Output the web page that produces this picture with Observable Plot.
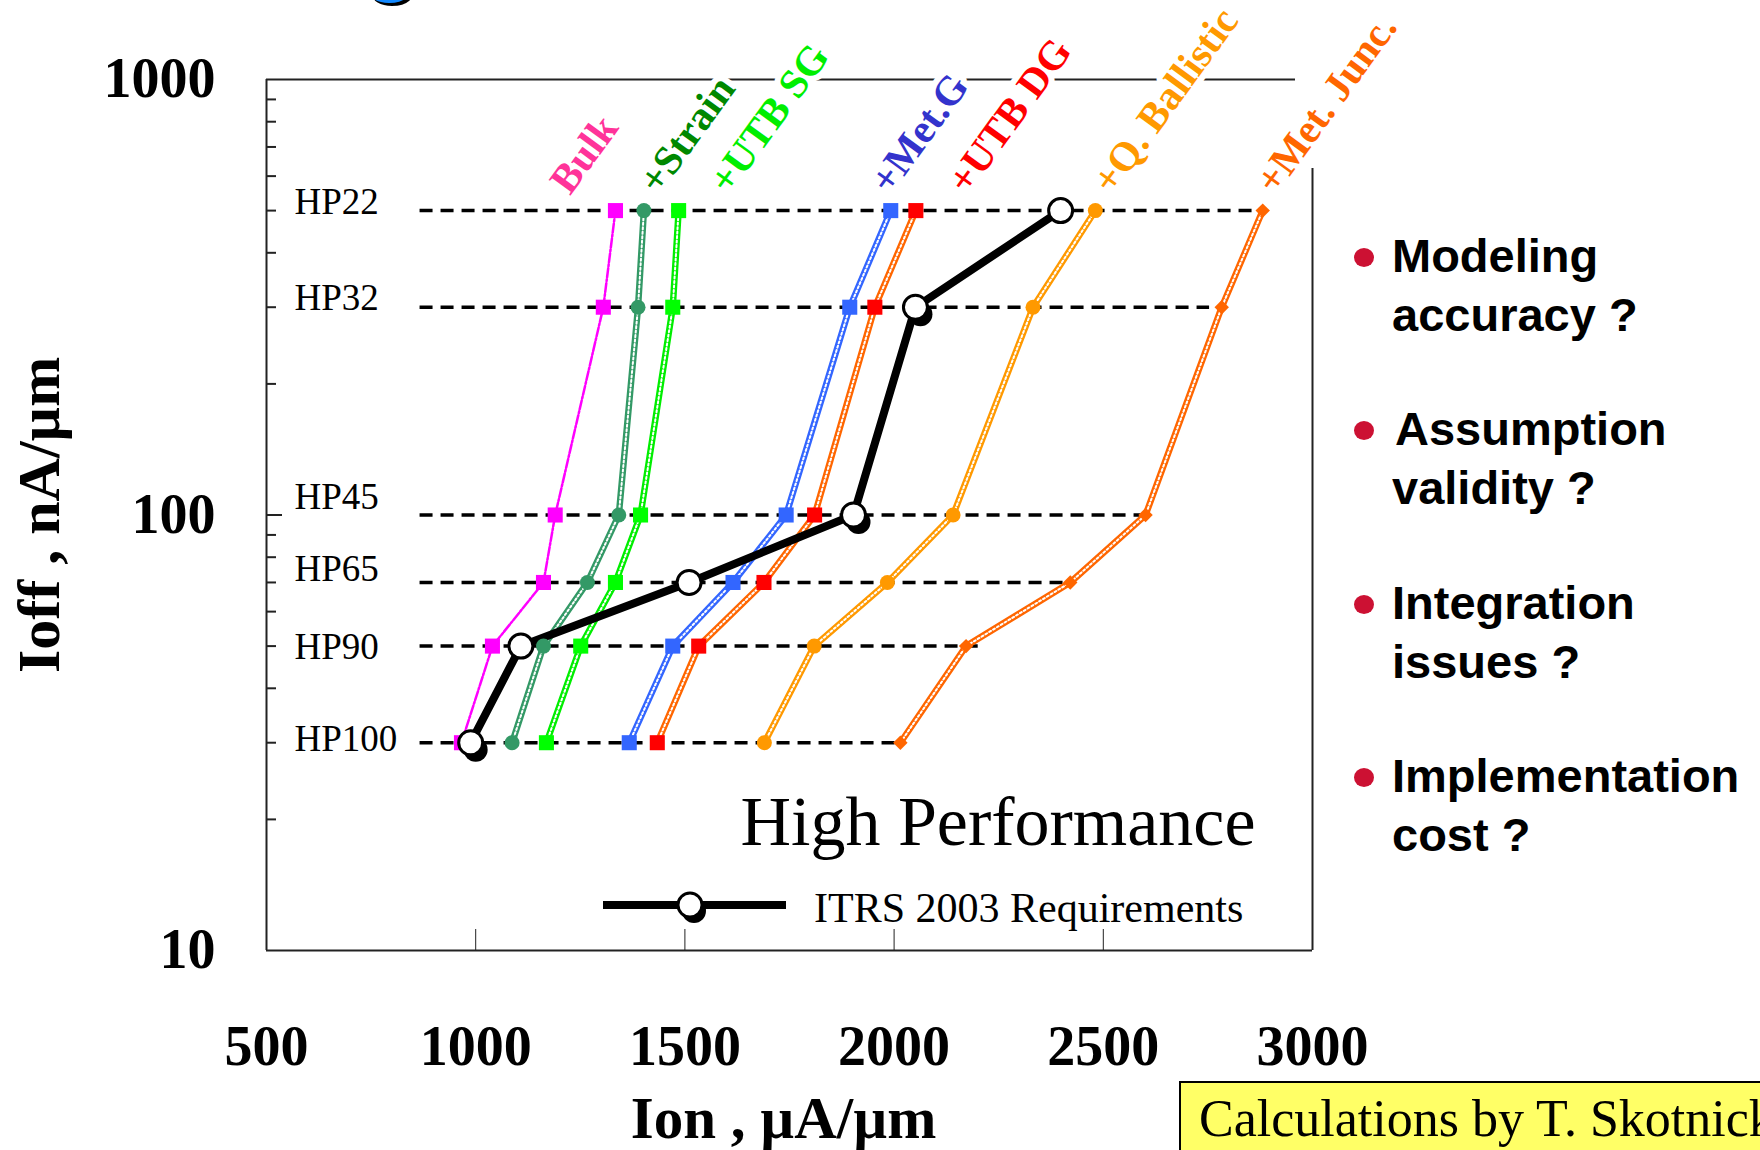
<!DOCTYPE html>
<html><head><meta charset="utf-8">
<script src="https://cdn.jsdelivr.net/npm/d3@7"></script>
<script src="https://cdn.jsdelivr.net/npm/@observablehq/plot@0.6"></script>
<style>
body{margin:0;background:#fff;}
#wrap{position:relative;width:1760px;height:1150px;overflow:hidden;background:#fff;}
#chart{position:absolute;left:0;top:0;}
#titlefrag{position:absolute;left:362px;top:-94px;font-family:"Liberation Sans",Arial,sans-serif;font-weight:bold;font-size:93px;line-height:93px;color:#1188FF;text-shadow:3px 3px 0 #000;}
.bul{position:absolute;left:1392px;font-family:"Liberation Sans",Arial,sans-serif;font-weight:bold;font-size:47px;line-height:59px;color:#000;white-space:nowrap;}
.dot{position:absolute;left:1354px;width:20px;height:19px;border-radius:50%;background:#CC1133;}
#note{position:absolute;left:1179px;top:1081px;width:700px;height:120px;background:#FFFF66;border:2px solid #000;font-family:"Liberation Serif",serif;font-size:52px;white-space:nowrap;}
#note span{position:absolute;left:18px;top:6px;}
#legend{position:absolute;left:590px;top:880px;}
#legtext{position:absolute;left:814px;top:884px;font-family:"Liberation Serif",serif;font-size:42px;white-space:nowrap;}
</style></head><body>
<div id="wrap">
<div id="titlefrag">g</div>
<div id="chart"></div>
<svg id="legend" width="220" height="50"><line x1="13" y1="25" x2="196" y2="25" stroke="#000" stroke-width="8"/><circle cx="104" cy="31" r="12" fill="#000"/><circle cx="100" cy="25" r="12" fill="#fff" stroke="#000" stroke-width="3"/></svg>
<div id="legtext">ITRS 2003 Requirements</div>
<div class="dot" style="top:248px"></div>
<div class="bul" style="top:226px">Modeling<br>accuracy ?</div>
<div class="dot" style="top:421px"></div>
<div class="bul" style="top:399px;left:1395px">Assumption<br><span style="margin-left:-3px">validity ?</span></div>
<div class="dot" style="top:595px"></div>
<div class="bul" style="top:573px">Integration<br>issues ?</div>
<div class="dot" style="top:768px"></div>
<div class="bul" style="top:746px">Implementation<br>cost ?</div>
<div id="note"><span>Calculations by T. Skotnicki</span></div>
</div>
<script>
// ---- data ----
const hpNames = ["HP100", "HP90", "HP65", "HP45", "HP32", "HP22"];
const hpIoff = [30, 50, 70, 100, 300, 500];           // nA/µm
const dashFrom = 867;                                  // µA/µm
const dashTo = [2008, 2201, 2416, 2594, 2754, 2869];   // µA/µm
const hpLabelIon = 567;

const seriesNames = ["Bulk", "+Strain", "+UTB SG", "+Met.G", "+UTB DG", "+Q. Ballistic", "+Met. Junc."];
const ionBulk   = [966, 1040, 1162, 1190, 1305, 1334];
const ionStrain = [1087, 1162, 1267, 1342, 1388, 1402];
const ionUtbSG  = [1169, 1251, 1334, 1394, 1471, 1485];
const ionMetG   = [1367, 1471, 1615, 1742, 1894, 1992];
const ionUtbDG  = [1434, 1533, 1689, 1810, 1954, 2052];
const ionQBall  = [1690, 1809, 1984, 2141, 2332, 2481];
const ionMetJ   = [2015, 2172, 2421, 2601, 2783, 2881];
const itrsIon   = [988, 1108, 1510, 1903, 2051, 2398];
const itrsShadowLevels = ["HP100", "HP45", "HP32"];

const labelIon = [1200, 1412, 1580, 1965, 2150, 2496, 2886];
const labelIoff = 562;

const xDomain = [500, 3000];
const yDomain = [10, 1000];
const xTickLabels = [500, 1000, 1500, 2000, 2500, 3000];
const xInnerTicks = [1000, 1500, 2000, 2500];
const yTickLabels = [10, 100, 1000];
const yMinorTicks = [20, 30, 40, 50, 60, 70, 80, 90, 200, 300, 400, 500, 600, 700, 800, 900];

// ---- styles ----
const hpLabelDy = [-4, 1, -13, -18, -9, -8];
const seriesIon = [ionBulk, ionStrain, ionUtbSG, ionMetG, ionUtbDG, ionQBall, ionMetJ];
const styles = [
  {line: "#FF00FF", fill: "#FF00FF", symbol: "square", r: 8.5, chain: false, label: "#FF3399"},
  {line: "#339966", fill: "#339966", symbol: "circle", r: 7.5, chain: true, label: "#008800"},
  {line: "#00EE00", fill: "#00FF00", symbol: "square", r: 8.5, chain: true, label: "#00EE00"},
  {line: "#3366FF", fill: "#3366FF", symbol: "square", r: 8.5, chain: true, label: "#3333CC"},
  {line: "#FF6600", fill: "#FF0000", symbol: "square", r: 8.5, chain: true, label: "#FF0000"},
  {line: "#FF9900", fill: "#FF9900", symbol: "circle", r: 7.5, chain: true, label: "#FF9900"},
  {line: "#FF6600", fill: "#FF6600", symbol: "diamond2", r: 6.5, chain: true, label: "#FF6600"}
];

const hpRows = hpNames.map((n, i) => ({name: n, ioff: hpIoff[i], to: dashTo[i]}));
const series = seriesNames.map((name, s) => ({
  name, style: styles[s],
  rows: seriesIon[s].map((x, i) => ({ion: x, ioff: hpIoff[i], level: hpNames[i]}))
}));
const itrsRows = itrsIon.map((x, i) => ({ion: x, ioff: hpIoff[i], level: hpNames[i]}));
const labelRows = seriesNames.map((n, i) => ({name: n, ion: labelIon[i], ioff: labelIoff, color: styles[i].label}));

const serif = "'Liberation Serif','Times New Roman',serif";
const frameColor = "#222";

const marks = [];
// frame: left, bottom, top (stopping short of the corner), right (starting below the labels)
marks.push(Plot.ruleX([xDomain[0]], {x: d => d, stroke: frameColor, strokeWidth: 2}));
marks.push(Plot.ruleY([yDomain[0]], {y: d => d, stroke: frameColor, strokeWidth: 2}));
marks.push(Plot.ruleY([yDomain[1]], {y: d => d, insetRight: 17, stroke: frameColor, strokeWidth: 2}));
marks.push(Plot.ruleX([xDomain[1]], {x: d => d, insetTop: 89, stroke: frameColor, strokeWidth: 2}));
marks.push(Plot.ruleY(yMinorTicks, {y: d => d, insetRight: 1036, stroke: frameColor, strokeWidth: 2}));
marks.push(Plot.ruleY([100], {y: d => d, insetRight: 1030, stroke: frameColor, strokeWidth: 2}));
marks.push(Plot.ruleX(xInnerTicks, {x: d => d, insetTop: 850, stroke: frameColor, strokeWidth: 1}));
marks.push(Plot.ruleY(hpRows, {y: "ioff", x1: () => dashFrom, x2: "to", stroke: "#000", strokeWidth: 3.5, strokeDasharray: "13,8"}));
hpRows.forEach((row, i) => {
  marks.push(Plot.text([row], {x: () => hpLabelIon, y: "ioff", text: "name", textAnchor: "start", fontSize: 37, fontFamily: serif, dy: hpLabelDy[i], fill: "#000"}));
});

for (const s of series) {
  if (s.style.chain) {
    marks.push(Plot.line(s.rows, {x: "ion", y: "ioff", stroke: s.style.line, strokeWidth: 6.5}));
    marks.push(Plot.line(s.rows, {x: "ion", y: "ioff", stroke: "white", strokeWidth: 2, strokeDasharray: "2,2.5"}));
  } else {
    marks.push(Plot.line(s.rows, {x: "ion", y: "ioff", stroke: s.style.line, strokeWidth: 2.5, strokeDasharray: "9,2,2,2"}));
  }
}
marks.push(Plot.line(itrsRows, {x: "ion", y: "ioff", stroke: "#000", strokeWidth: 8}));
for (const s of series) {
  marks.push(Plot.dot(s.rows, {x: "ion", y: "ioff", symbol: () => s.style.symbol, r: s.style.r, fill: s.style.fill, stroke: "none"}));
}
marks.push(Plot.dot(itrsRows.filter(d => itrsShadowLevels.includes(d.level)), {x: "ion", y: "ioff", r: 12, fill: "#000", dx: 5, dy: 7}));
marks.push(Plot.dot(itrsRows, {x: "ion", y: "ioff", r: 12, fill: "white", stroke: "#000", strokeWidth: 3}));
marks.push(Plot.text(labelRows, {x: "ion", y: "ioff", text: "name", fill: "color", rotate: -54, textAnchor: "start", fontSize: 41, fontWeight: "bold", fontFamily: serif, stroke: "white", strokeWidth: 12}));
marks.push(Plot.text(["High Performance"], {frameAnchor: "bottom-right", text: d => d, dx: -57, dy: -106, textAnchor: "end", fontSize: 70, fontFamily: serif, fill: "#000"}));
marks.push(Plot.axisX({ticks: xTickLabels, tickSize: 0, tickPadding: 75, fontSize: 56, fontWeight: "bold", fontFamily: serif, label: null, tickFormat: d => String(d)}));
marks.push(Plot.axisY({ticks: yTickLabels, tickSize: 0, tickPadding: 51, fontSize: 56, fontWeight: "bold", fontFamily: serif, label: null, tickFormat: d => String(d)}));
marks.push(Plot.text(["Ion , µA/µm"], {frameAnchor: "bottom", text: d => d, dy: 169, dx: -6, textAnchor: "middle", lineAnchor: "middle", fontSize: 59, fontWeight: "bold", fontFamily: serif, fill: "#000"}));
marks.push(Plot.text(["Ioff , nA/µm"], {frameAnchor: "left", text: d => d, dx: -227, textAnchor: "middle", lineAnchor: "middle", rotate: -90, fontSize: 60, fontWeight: "bold", fontFamily: serif, fill: "#000"}));

const chart = Plot.plot({
  width: 1760, height: 1150,
  marginTop: 79, marginRight: 448, marginBottom: 200, marginLeft: 266,
  x: {type: "linear", domain: xDomain},
  y: {type: "log", domain: yDomain},
  color: {type: "identity"},
  style: {background: "transparent", fontFamily: serif, color: "#000", overflow: "visible"},
  marks
});
document.getElementById("chart").appendChild(chart);
</script>
</body></html>
